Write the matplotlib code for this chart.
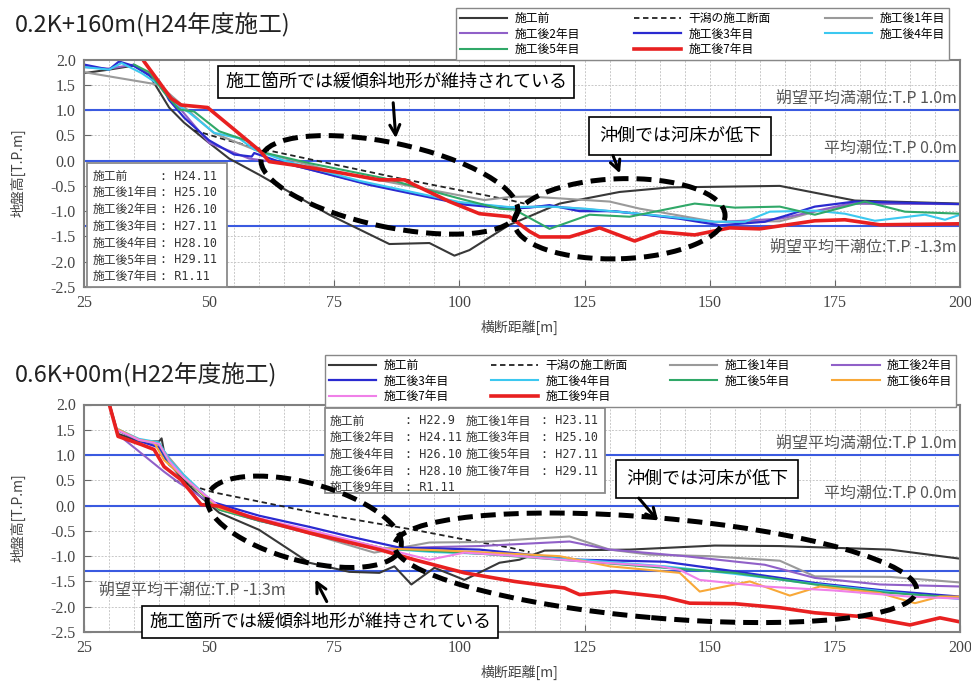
import matplotlib

matplotlib.use("Agg")
import matplotlib.pyplot as plt
import numpy as np
from matplotlib.patches import Ellipse, Rectangle
from matplotlib.transforms import ScaledTranslation

plt.rcParams["font.family"] = ["Noto Sans CJK JP", "DejaVu Sans"]
plt.rcParams["axes.unicode_minus"] = False

W, H, DPI = 971, 684, 100

# ---- upper section: 0.2K+160m ----
t_pre_x = [25, 30, 35, 38, 42, 45, 50, 54, 60, 74, 86, 94, 99, 102, 110, 120, 132, 142, 164, 179, 200]
t_pre_y = [1.73, 1.80, 1.88, 1.70, 1.05, 0.75, 0.35, 0.04, -0.28, -1.07, -1.65, -1.63, -1.88, -1.77, -1.27,
           -0.85, -0.62, -0.53, -0.50, -0.79, -0.85]
t_plan_x = [47, 53, 60, 88, 110, 113]
t_plan_y = [0.60, 0.42, 0.24, -0.35, -0.78, -0.85]
t_y1_x = [25, 40, 44, 51, 60, 75, 90, 105, 110, 114, 130, 136, 143, 151, 164, 171, 179, 200]
t_y1_y = [1.75, 1.50, 1.15, 0.54, 0.18, -0.22, -0.50, -0.78, -0.72, -0.71, -0.81, -0.95, -1.07, -1.21,
          -1.20, -1.01, -0.85, -0.86]
t_y2_x = [25, 30, 35, 40, 44, 50, 58, 65, 80, 100, 110, 118, 130, 144, 151, 164, 178, 200]
t_y2_y = [1.85, 1.82, 1.90, 1.55, 1.05, 0.35, 0.04, -0.05, -0.42, -0.83, -0.93, -0.90, -1.00, -1.13,
          -1.22, -1.15, -0.85, -0.86]
t_y3_x = [25, 30, 32, 35, 40, 42, 45, 50, 55, 58.5, 59, 64, 82, 101, 110, 114, 118, 124, 131, 144, 152,
          161, 165.5, 171, 179, 200]
t_y3_y = [1.90, 1.80, 1.96, 1.87, 1.57, 1.20, 0.85, 0.40, 0.12, 0.08, 0.15, -0.02, -0.48, -0.87, -0.95,
          -0.93, -0.88, -1.00, -1.00, -1.15, -1.28, -1.21, -1.08, -0.91, -0.81, -0.86]
t_y4_x = [25, 30, 32.5, 36.5, 40, 43, 46, 51, 56, 59, 65, 80, 100, 110, 118, 125, 138, 151, 157, 162, 171,
          177, 183, 193, 197, 200]
t_y4_y = [1.85, 1.80, 1.93, 1.73, 1.50, 1.15, 0.95, 0.55, 0.44, 0.22, 0.00, -0.40, -0.82, -0.92, -0.91,
          -0.95, -1.07, -1.21, -1.21, -1.01, -0.99, -1.05, -1.19, -1.07, -1.17, -1.07]
t_y5_x = [35, 38, 41, 44, 47, 52, 58, 60, 70, 85, 100, 108, 111, 118, 126, 134, 147, 155, 164, 171, 181,
          189, 200]
t_y5_y = [1.90, 1.75, 1.35, 1.01, 0.97, 0.58, 0.38, 0.18, -0.05, -0.35, -0.75, -0.95, -0.97, -1.35, -1.07,
          -1.11, -0.85, -0.93, -0.91, -1.07, -0.81, -1.01, -1.05]
t_y7_x = [35, 37, 42.4, 44.4, 49.7, 60.3, 62, 67, 75, 84, 89, 91, 98, 104, 110, 114, 116, 122, 128, 135,
          140, 147, 154, 160, 171, 177, 184, 200]
t_y7_y = [2.30, 1.96, 1.23, 1.10, 1.05, 0.18, -0.02, -0.09, -0.22, -0.38, -0.38, -0.48, -0.81, -1.05,
          -1.11, -1.40, -1.51, -1.51, -1.33, -1.59, -1.41, -1.47, -1.33, -1.35, -1.19, -1.17, -1.27, -1.25]

# ---- lower section: 0.6K+00m ----
b_pre_x = [30, 31.8, 36, 40, 40.5, 41.2, 44, 48, 52, 60, 66, 70, 78, 84, 87, 90.4, 95, 101, 108, 112, 117,
           134, 151, 164, 186, 200]
b_pre_y = [2.05, 1.42, 1.27, 1.27, 1.33, 0.95, 0.60, 0.20, -0.14, -0.48, -0.87, -1.13, -1.31, -1.33, -1.20,
           -1.56, -1.23, -1.47, -1.13, -1.07, -0.89, -0.87, -0.79, -0.80, -0.87, -1.05]
b_plan_x = [43, 51, 71, 91, 101, 110, 114]
b_plan_y = [0.50, 0.26, -0.14, -0.48, -0.67, -0.83, -0.92]
b_y1_x = [32, 36, 40, 42, 45, 52, 60, 70, 83, 94, 104, 122, 130, 138, 150, 164, 171, 186, 200]
b_y1_y = [1.50, 1.30, 1.20, 0.95, 0.60, -0.08, -0.30, -0.55, -0.93, -0.73, -0.72, -0.61, -0.87, -0.97,
          -1.00, -1.09, -1.40, -1.41, -1.52]
b_y2_x = [33, 41, 44, 52, 60, 70, 85, 95, 104, 122, 130, 145, 161, 171, 184, 200]
b_y2_y = [1.31, 0.67, 0.45, -0.05, -0.30, -0.52, -0.85, -0.82, -0.80, -0.71, -0.87, -1.00, -1.17, -1.43,
          -1.56, -1.60]
b_y3_x = [32, 36, 40, 42, 48.4, 51, 60, 70, 78, 88, 104, 124, 141, 155, 171, 185, 200]
b_y3_y = [1.48, 1.28, 1.15, 0.81, 0.26, 0.06, -0.20, -0.42, -0.61, -0.83, -0.87, -1.07, -1.11, -1.30,
          -1.53, -1.68, -1.80]
b_y4_x = [32, 36, 40, 42, 45, 52, 60, 70, 85, 95, 104, 124, 141, 155, 171, 185, 200]
b_y4_y = [1.50, 1.32, 1.25, 0.91, 0.60, -0.05, -0.28, -0.50, -0.85, -0.92, -0.95, -1.07, -1.20, -1.35,
          -1.55, -1.70, -1.85]
b_y5_x = [32, 36, 40, 42, 45, 52, 60, 70, 85, 95, 104, 124, 141, 155, 171, 185, 200]
b_y5_y = [1.48, 1.30, 1.22, 0.85, 0.55, -0.08, -0.30, -0.52, -0.85, -0.90, -0.95, -1.10, -1.23, -1.33,
          -1.56, -1.72, -1.82]
b_y6_x = [32, 36, 39, 41, 45, 52, 60, 70, 85, 95, 104, 120, 130, 144, 148, 158, 166, 172, 184, 191, 196, 200]
b_y6_y = [1.50, 1.30, 1.25, 0.90, 0.55, -0.05, -0.28, -0.50, -0.85, -0.88, -0.92, -1.00, -1.20, -1.33,
          -1.70, -1.50, -1.78, -1.60, -1.73, -1.93, -1.80, -1.80]
b_y7_x = [32, 36, 40, 42, 45, 52, 60, 70, 85, 94, 101, 112, 124, 140, 144, 148, 161, 175, 190, 200]
b_y7_y = [1.48, 1.30, 1.22, 0.88, 0.55, -0.02, -0.25, -0.48, -0.85, -1.07, -0.93, -1.00, -1.10, -1.20,
          -1.27, -1.47, -1.60, -1.68, -1.80, -1.84]
b_y9_x = [29.5, 31.8, 36.4, 39, 41, 44.4, 48.4, 52, 58, 70, 84, 91, 101, 111, 121, 124, 131, 141, 146, 155,
          164, 171, 181, 190, 196, 200]
b_y9_y = [2.20, 1.37, 1.21, 1.11, 0.77, 0.51, 0.02, -0.01, -0.22, -0.54, -0.87, -1.07, -1.33, -1.50, -1.63,
          -1.76, -1.70, -1.81, -1.93, -1.94, -2.02, -2.12, -2.20, -2.36, -2.22, -2.30]

tide_levels = [1.0, 0.0, -1.3]
top_dates = [("施工前", "H24.11"), ("施工後1年目", "H25.10"), ("施工後2年目", "H26.10"),
             ("施工後3年目", "H27.11"), ("施工後4年目", "H28.10"), ("施工後5年目", "H29.11"),
             ("施工後7年目", "R1.11")]
bottom_dates = [("施工前", "H22.9"), ("施工後1年目", "H23.11"), ("施工後2年目", "H24.11"),
                ("施工後3年目", "H25.10"), ("施工後4年目", "H26.10"), ("施工後5年目", "H27.11"),
                ("施工後6年目", "H28.10"), ("施工後7年目", "H29.11"), ("施工後9年目", "R1.11")]

STYLES = {
    "施工前": dict(color="#383838", lw=1.5),
    "干潟の施工断面": dict(color="#222222", lw=1.3, ls=(0, (3, 2))),
    "施工後1年目": dict(color="#9a9a9a", lw=1.5),
    "施工後2年目": dict(color="#9060c8", lw=1.5),
    "施工後3年目": dict(color="#2a2ad0", lw=1.6),
    "施工後4年目": dict(color="#3cc8f0", lw=1.5),
    "施工後5年目": dict(color="#30a868", lw=1.5),
    "施工後6年目": dict(color="#f8a838", lw=1.5),
    "施工後7年目": dict(color="#f080e8", lw=1.5),
    "施工後9年目": dict(color="#e82020", lw=2.6),
}

fig = plt.figure(figsize=(W / DPI, H / DPI), dpi=DPI)


def ff(px, py):
    return px / W, 1 - py / H


def make_axes(top_px):
    ax = fig.add_axes([84 / W, 1 - (top_px + 227.5) / H, 876 / W, 227.5 / H])
    ax.set_xlim(25, 200)
    ax.set_ylim(-2.5, 2.0)
    ax.set_xticks(np.arange(25, 201, 25))
    ax.set_xticks(np.arange(25, 201, 5), minor=True)
    ax.set_yticks(np.arange(-2.5, 2.01, 0.5))
    ax.set_yticklabels([f"{v:.1f}" for v in np.arange(-2.5, 2.01, 0.5)])
    ax.grid(True, which="both", axis="x", color="#c8c8c8", lw=0.7, ls=(0, (2, 1.5)))
    ax.grid(True, which="major", axis="y", color="#c8c8c8", lw=0.7, ls=(0, (2, 1.5)))
    ax.set_axisbelow(True)
    ax.tick_params(which="major", direction="in", length=5, color="#666", labelsize=11.5,
                   labelcolor="#444", pad=6)
    ax.tick_params(which="minor", length=0)
    for lab in ax.get_xticklabels() + ax.get_yticklabels():
        lab.set_family("Liberation Serif")
    for sp in ax.spines.values():
        sp.set_color("#808080")
        sp.set_linewidth(1.5)
    for lv in tide_levels:
        ax.axhline(lv, color="#3a5ae0", lw=1.5, zorder=1.5)
    return ax


def dashed_ellipse(ax, cx, cy, w_px, h_px, angle):
    tr = fig.dpi_scale_trans + ScaledTranslation(cx, cy, ax.transData)
    ax.add_patch(Ellipse((0, 0), w_px / DPI, h_px / DPI, angle=angle, transform=tr, fill=False,
                         ec="black", lw=3.6, ls=(0, (3, 1.6)), zorder=6))


def callout(ax, text, cpx, cpy, tail, head, pad=0.4):
    ax.text(*ff(cpx, cpy), text, transform=fig.transFigure, ha="center", va="center", fontsize=13,
            zorder=7, bbox=dict(boxstyle=f"square,pad={pad}", fc="white", ec="black", lw=1.2))
    ax.annotate("", xy=ff(*head), xytext=ff(*tail), xycoords="figure fraction",
                textcoords="figure fraction",
                arrowprops=dict(arrowstyle="->", lw=2.2, color="black", mutation_scale=18), zorder=8)


def info_box(ax, x0, y0, x1, y1, rows, cols_x, row_h):
    ax.add_patch(Rectangle(ff(x0, y1), (x1 - x0) / W, (y1 - y0) / H, transform=fig.transFigure,
                           fc="white", ec="#8a8a8a", lw=1.3, zorder=4, clip_on=False))
    ncol = len(cols_x)
    for i, (lab, val) in enumerate(rows):
        c, r = i % ncol, i // ncol
        lx, vx = cols_x[c]
        py = y0 + 13 + r * row_h
        ax.text(*ff(lx, py), lab, transform=fig.transFigure, fontsize=8.5, color="#333", va="center",
                zorder=5)
        ax.text(*ff(vx, py), ": " + val, transform=fig.transFigure, fontsize=8.5, color="#333",
                va="center", zorder=5, family="DejaVu Sans Mono")


def tide_labels(ax, low_left):
    kw = dict(va="center", fontsize=11.5, color="#555", zorder=3)
    ax.text(199.3, 1.23, "朔望平均満潮位:T.P 1.0m", ha="right", **kw)
    ax.text(199.3, 0.24, "平均潮位:T.P 0.0m", ha="right", **kw)
    if low_left:
        ax.text(28, -1.68, "朔望平均干潮位:T.P -1.3m", ha="left", **kw)
    else:
        ax.text(199.3, -1.72, "朔望平均干潮位:T.P -1.3m", ha="right", **kw)


def legend(handles, labels, x0, y0, ncol, spacing):
    fig.legend(handles, labels, loc="upper left", ncol=ncol, bbox_to_anchor=ff(x0, y0),
               borderaxespad=0, fontsize=8.5, handlelength=4.0, handletextpad=0.6,
               labelspacing=0.2, borderpad=0.35, columnspacing=spacing, frameon=True,
               fancybox=False, edgecolor="#888", framealpha=1)


# ---------------- upper chart ----------------
ax1 = make_axes(59.5)
top_series = [("施工前", t_pre_x, t_pre_y), ("干潟の施工断面", t_plan_x, t_plan_y),
              ("施工後1年目", t_y1_x, t_y1_y), ("施工後2年目", t_y2_x, t_y2_y),
              ("施工後3年目", t_y3_x, t_y3_y), ("施工後4年目", t_y4_x, t_y4_y),
              ("施工後5年目", t_y5_x, t_y5_y), ("施工後7年目", t_y7_x, t_y7_y)]
h1 = {}
for name, xs, ys in top_series:
    st = STYLES["施工後9年目"] if name == "施工後7年目" else STYLES[name]
    (h1[name],) = ax1.plot(xs, ys, zorder=2, **st)
tide_labels(ax1, low_left=False)
info_box(ax1, 87, 163, 227, 287, top_dates, [(93, 160)], 16.8)
dashed_ellipse(ax1, 86, -0.48, 262, 84, -12)
dashed_ellipse(ax1, 132, -1.15, 211, 80, 2)
callout(ax1, "施工箇所では緩傾斜地形が維持されている", 396, 82, (393, 100), (396, 141))
callout(ax1, "沖側では河床が低下", 680, 136, (612, 153), (621, 176), pad=0.55)

order1 = ["施工前", "施工後2年目", "施工後5年目", "干潟の施工断面", "施工後3年目", "施工後7年目",
          "施工後1年目", "施工後4年目"]
legend([h1[k] for k in order1], order1, 456, 8, 3, 4.6)

# ---------------- lower chart ----------------
ax2 = make_axes(404.5)
bottom_series = [("施工前", b_pre_x, b_pre_y), ("干潟の施工断面", b_plan_x, b_plan_y),
                 ("施工後1年目", b_y1_x, b_y1_y), ("施工後2年目", b_y2_x, b_y2_y),
                 ("施工後3年目", b_y3_x, b_y3_y), ("施工後4年目", b_y4_x, b_y4_y),
                 ("施工後5年目", b_y5_x, b_y5_y), ("施工後6年目", b_y6_x, b_y6_y),
                 ("施工後7年目", b_y7_x, b_y7_y), ("施工後9年目", b_y9_x, b_y9_y)]
h2 = {}
for name, xs, ys in bottom_series:
    (h2[name],) = ax2.plot(xs, ys, zorder=2, **STYLES[name])
tide_labels(ax2, low_left=True)
info_box(ax2, 325, 408, 605, 493, bottom_dates, [(330, 405), (466, 541)], 16.7)
dashed_ellipse(ax2, 69, -0.32, 200, 78, -15)
dashed_ellipse(ax2, 139.2, -1.23, 524, 100, -5)
callout(ax2, "施工箇所では緩傾斜地形が維持されている", 320, 622, (328, 604), (314, 577))
callout(ax2, "沖側では河床が低下", 707, 479, (637, 496), (660, 523), pad=0.55)

order2 = ["施工前", "施工後3年目", "施工後7年目", "干潟の施工断面", "施工後4年目", "施工後9年目",
          "施工後1年目", "施工後5年目", "施工後2年目", "施工後6年目"]
legend([h2[k] for k in order2], order2, 325, 355, 4, 3.6)

# ---------------- titles and axis labels ----------------
fig.text(*ff(15, 25), "0.2K+160m(H24年度施工)", fontsize=17, va="center", color="#222")
fig.text(*ff(15, 375), "0.6K+00m(H22年度施工)", fontsize=17, va="center", color="#222")
for cy, xl_y in [(173, 327), (518, 672)]:
    fig.text(*ff(18, cy), "地盤高[T.P.m]", rotation=90, ha="center", va="center", fontsize=10,
             color="#444")
    fig.text(*ff(520, xl_y), "横断距離[m]", ha="center", va="center", fontsize=10, color="#444")

fig.savefig("out.png", dpi=DPI)
